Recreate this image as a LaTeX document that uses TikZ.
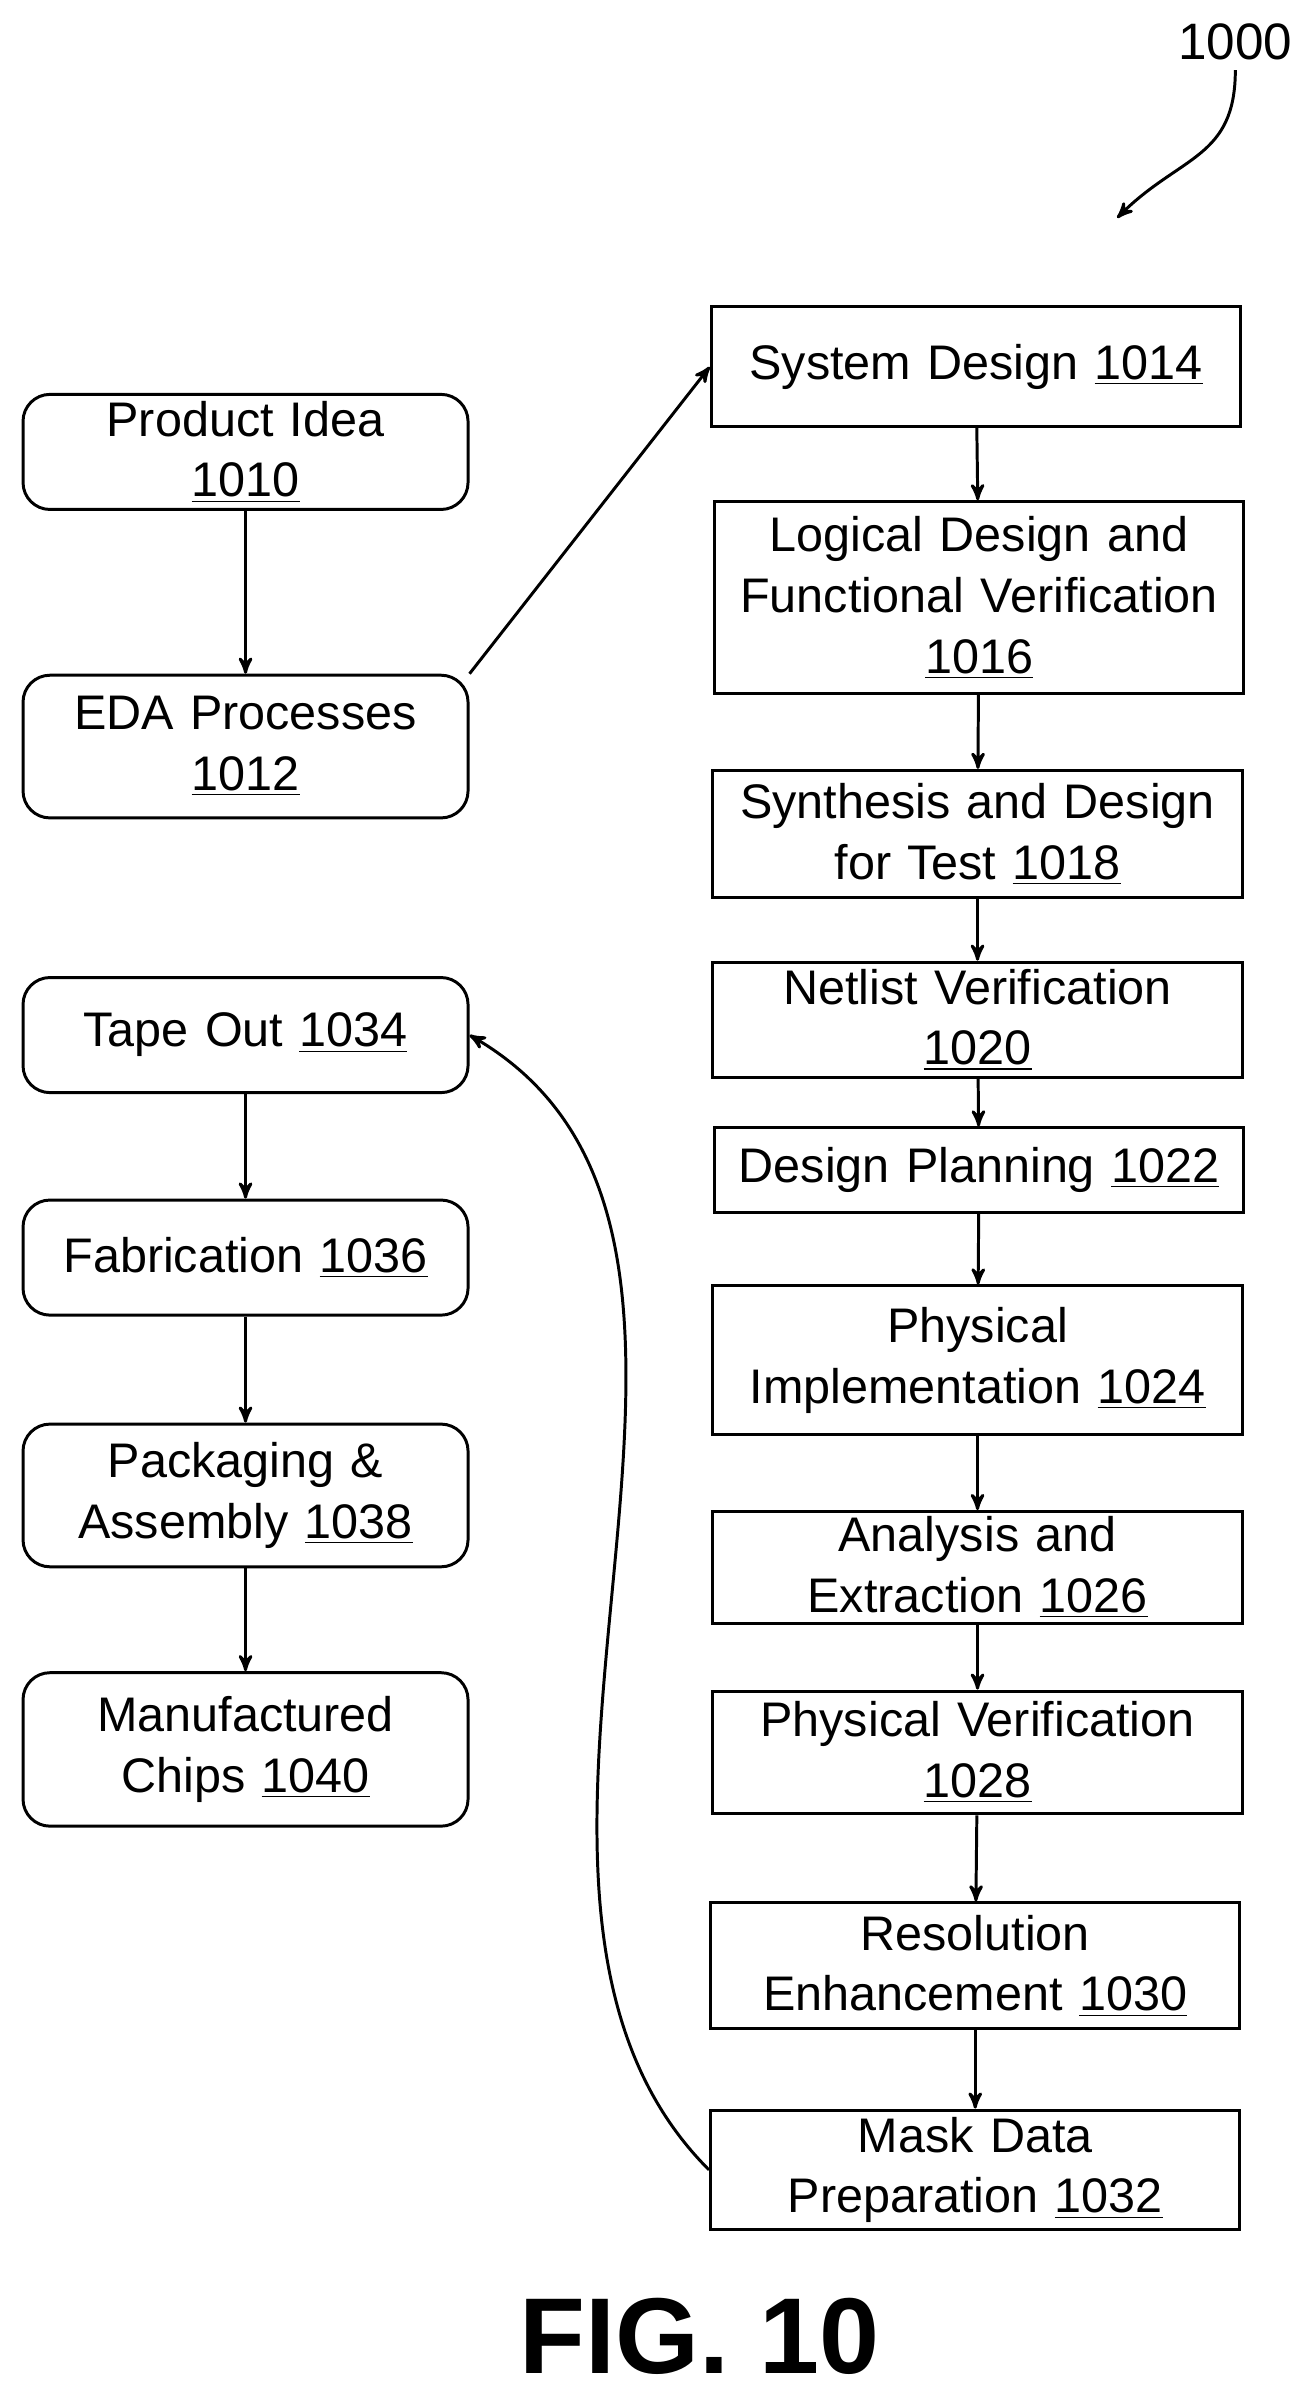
\documentclass[tikz,border=0pt]{standalone}
\usepackage{fontspec}
\setmainfont{Liberation Sans}
\usetikzlibrary{positioning, arrows}

\tikzset{
  flowbox/.style={draw, line width=1.1pt, rounded corners=10pt, minimum width=5.8cm, text width=5.7cm, align=center, inner sep=0pt, font=\fontsize{18}{22.5}\selectfont},
  stagebox/.style={draw, line width=1.1pt, minimum width=6.9cm, text width=6.8cm, align=center, inner sep=0pt, font=\fontsize{18}{22.5}\selectfont},
}
\newcommand{\num}[1]{\underline{#1}}

\begin{document}
\begin{tikzpicture}[->, >=stealth', line width=1.1pt]
        \useasboundingbox (0,0) rectangle (17.06,-31.24);
        % left column
        \node[flowbox, minimum height=1.5cm]   (idea)  at (3.2,-5.89)  {Product Idea\\\num{1010}};
        \node[flowbox, minimum height=1.86cm]  (eda)   at (3.2,-9.73)  {EDA Processes\\\num{1012}};
        \node[flowbox, minimum height=1.5cm]   (tape)  at (3.2,-13.49) {Tape Out \num{1034}};
        \node[flowbox, minimum height=1.5cm]   (fab)   at (3.2,-16.39) {Fabrication \num{1036}};
        \node[flowbox, minimum height=1.86cm]  (pack)  at (3.2,-19.49) {Packaging \&\\Assembly \num{1038}};
        \node[flowbox, minimum height=2.0cm]   (chips) at (3.2,-22.8)  {Manufactured\\Chips \num{1040}};
        % right column
        \node[stagebox, minimum height=1.56cm] (sys)   at (12.72,-4.78)  {System Design \num{1014}};
        \node[stagebox, minimum height=2.5cm]  (logic) at (12.76,-7.79)  {Logical Design and\\Functional Verification\\\num{1016}};
        \node[stagebox, minimum height=1.66cm] (synth) at (12.74,-10.87) {Synthesis and Design\\for Test \num{1018}};
        \node[stagebox, minimum height=1.5cm]  (net)   at (12.74,-13.29) {Netlist Verification\\\num{1020}};
        \node[stagebox, minimum height=1.1cm]  (plan)  at (12.76,-15.25) {Design Planning \num{1022}};
        \node[stagebox, minimum height=1.94cm] (phys)  at (12.74,-17.73) {Physical\\Implementation \num{1024}};
        \node[stagebox, minimum height=1.46cm] (anal)  at (12.74,-20.43) {Analysis and\\Extraction \num{1026}};
        \node[stagebox, minimum height=1.6cm]  (pver)  at (12.74,-22.84) {Physical Verification\\\num{1028}};
        \node[stagebox, minimum height=1.64cm] (res)   at (12.71,-25.62) {Resolution\\Enhancement \num{1030}};
        \node[stagebox, minimum height=1.56cm] (mask)  at (12.71,-28.28) {Mask Data\\Preparation \num{1032}};
        % labels
        \node[font=\fontsize{19}{22}\selectfont] (ref) at (16.1,-0.54) {1000};
        \coordinate (refend) at (14.56,-2.84);
        \node[font=\fontsize{40}{44}\bfseries\selectfont] (fig) at (9.12,-30.45) {FIG. 10};

        \path   (idea) edge (eda)
                (eda.north east) edge (sys.west)
                (sys) edge (logic)
                (logic) edge (synth)
                (synth) edge (net)
                (net) edge (plan)
                (plan) edge (phys)
                (phys) edge (anal)
                (anal) edge (pver)
                (pver) edge (res)
                (res) edge (mask)
                (mask.west) edge [out=135, in=-30, looseness=0.9] (tape.east)
                (tape) edge (fab)
                (fab) edge (pack)
                (pack) edge (chips)
                (ref.south) edge [out=-90, in=45, looseness=1.2] (refend);
\end{tikzpicture}
\end{document}
